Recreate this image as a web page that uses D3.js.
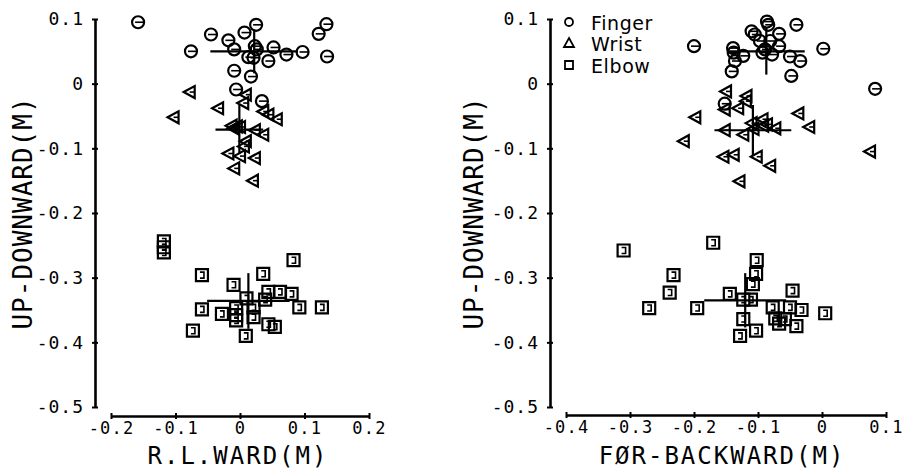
<!DOCTYPE html>
<html><head><meta charset="utf-8">
<script src="https://cdn.jsdelivr.net/npm/d3@7"></script>
<style>
html,body{margin:0;padding:0;background:#fff;}
svg{display:block;}
.tick text{font-family:"DejaVu Sans Mono",monospace;}
</style></head>
<body>
<script>
// ---------- data ----------
const yTicks = [0.1, 0, -0.1, -0.2, -0.3, -0.4, -0.5];
const xTicksLeft = [-0.2, -0.1, 0, 0.1, 0.2];
const xTicksRight = [-0.4, -0.3, -0.2, -0.1, 0, 0.1];
const groups = ["Finger", "Wrist", "Elbow"];
const xTitleLeft = "R.L.WARD(M)";
const xTitleRight = "FØR-BACKWARD(M)";
const yTitle = "UP-DOWNWARD(M)";

// Left panel: R.L.ward (x) vs up-downward (y)
const leftFinger = [[-0.158,0.095],[0.025,0.091],[0.134,0.092],[0.122,0.077],[-0.045,0.076],[0.007,0.079],
  [-0.018,0.067],[-0.076,0.050],[-0.009,0.053],[0.023,0.058],[0.026,0.053],[0.052,0.056],[0.072,0.045],
  [0.097,0.049],[0.135,0.042],[0.013,0.041],[0.021,0.040],[0.044,0.035],[-0.009,0.020],[0.017,0.011],
  [-0.006,-0.009],[0.034,-0.027]];
const leftWrist = [[-0.078,-0.013],[-0.103,-0.052],[-0.034,-0.038],[0.009,-0.017],[0.005,-0.030],
  [0.036,-0.043],[0.044,-0.048],[0.057,-0.055],[-0.013,-0.065],[-0.005,-0.066],[0.000,-0.067],
  [-0.010,-0.069],[0.023,-0.072],[0.036,-0.079],[0.009,-0.089],[0.006,-0.097],[-0.018,-0.108],
  [0.000,-0.112],[0.023,-0.115],[-0.009,-0.131],[0.020,-0.150]];
const leftElbow = [[-0.118,-0.244],[-0.118,-0.253],[-0.118,-0.261],[0.083,-0.273],[-0.059,-0.296],
  [0.036,-0.294],[-0.010,-0.311],[0.044,-0.322],[0.062,-0.322],[0.080,-0.325],[0.010,-0.332],
  [0.039,-0.334],[0.092,-0.346],[0.127,-0.346],[-0.059,-0.349],[-0.028,-0.356],[-0.006,-0.347],
  [-0.006,-0.358],[-0.006,-0.366],[0.021,-0.346],[0.021,-0.361],[0.044,-0.372],[0.054,-0.376],
  [-0.073,-0.382],[0.009,-0.390]];
// mean x, mean y, sd x, sd y  (Finger, Wrist, Elbow)
const leftMeanX = [0.022, -0.001, 0.013];
const leftMeanY = [0.050, -0.071, -0.336];
const leftSdX = [0.068, 0.037, 0.064];
const leftSdY = [0.034, 0.038, 0.043];

// Right panel: for-backward (x) vs up-downward (y)
const rightFinger = [[-0.200,0.058],[-0.086,0.096],[-0.084,0.091],[-0.040,0.091],[-0.110,0.081],
  [-0.105,0.076],[-0.067,0.077],[-0.097,0.066],[-0.081,0.066],[-0.067,0.058],[-0.089,0.053],
  [-0.139,0.055],[-0.138,0.048],[-0.123,0.043],[-0.136,0.035],[-0.093,0.048],[-0.078,0.045],
  [-0.050,0.042],[-0.034,0.035],[-0.141,0.019],[-0.048,0.012],[0.002,0.054],[0.083,-0.008],
  [-0.152,-0.031]];
const rightWrist = [[-0.150,-0.012],[-0.118,-0.019],[-0.119,-0.027],[-0.152,-0.040],[-0.131,-0.038],
  [-0.198,-0.052],[-0.037,-0.046],[-0.110,-0.061],[-0.093,-0.055],[-0.092,-0.065],[-0.086,-0.063],
  [-0.073,-0.069],[-0.020,-0.067],[-0.152,-0.072],[-0.123,-0.079],[-0.107,-0.070],[-0.216,-0.089],
  [-0.154,-0.113],[-0.138,-0.110],[-0.102,-0.113],[-0.081,-0.127],[-0.129,-0.151],[0.075,-0.105]];
const rightElbow = [[-0.310,-0.258],[-0.170,-0.246],[-0.102,-0.273],[-0.103,-0.294],[-0.232,-0.296],
  [-0.238,-0.323],[-0.108,-0.310],[-0.144,-0.325],[-0.046,-0.320],[-0.270,-0.347],[-0.195,-0.347],
  [-0.123,-0.334],[-0.111,-0.334],[-0.123,-0.364],[-0.128,-0.390],[-0.103,-0.382],[-0.077,-0.346],
  [-0.050,-0.346],[-0.032,-0.350],[0.005,-0.355],[-0.073,-0.363],[-0.067,-0.371],[-0.058,-0.364],
  [-0.040,-0.375]];
const rightMeanX = [-0.087, -0.108, -0.120];
const rightMeanY = [0.050, -0.072, -0.335];
const rightSdX = [0.060, 0.060, 0.064];
const rightSdY = [0.036, 0.039, 0.042];

// ---------- drawing ----------
const W = 905, H = 469;
const svg = d3.select("body").append("svg").attr("width", W).attr("height", H);

const markerPaths = {
  Finger: ["M-3,0H6"],
  Wrist: ["M-6,0L5,-6L5,6Z", "M0,0H5"],
  Elbow: ["M-6,-6H6V6H-6Z", "M-2,-3H2V3H-2"]
};

function tickFmt(d){ return d === 0 ? "0" : d.toFixed(1); }

function drawPanel(cfg){
  const x = d3.scaleLinear().domain(cfg.xDomain).range(cfg.xRange);
  const y = d3.scaleLinear().domain([-0.5, 0.1]).range([407, 19]);
  const g = svg.append("g");

  // y axis
  const ya = g.append("g").attr("transform", `translate(${cfg.yAxisX},0)`)
    .call(d3.axisLeft(y).tickValues(yTicks).tickFormat(tickFmt).tickSizeOuter(0).tickSizeInner(3).tickPadding(8));
  ya.select(".domain").attr("stroke-width", 2.6);
  ya.selectAll(".tick line").attr("x1", -3).attr("x2", 3).attr("stroke-width", 2);
  ya.selectAll(".tick text").attr("font-size", 18).attr("letter-spacing", 1).attr("fill", "#000");

  // x axis
  const xa = g.append("g").attr("transform", `translate(0,${cfg.xAxisY})`)
    .call(d3.axisBottom(x).tickValues(cfg.xTicks).tickFormat(tickFmt).tickSizeOuter(0).tickSizeInner(3).tickPadding(3));
  xa.select(".domain").attr("stroke-width", 2.6);
  xa.selectAll(".tick line").attr("y1", -3).attr("y2", 3).attr("stroke-width", 2);
  xa.selectAll(".tick text").attr("font-size", 17).attr("letter-spacing", 1.2).attr("fill", "#000");

  // titles
  g.append("text").attr("x", cfg.xTitleX).attr("y", 464).attr("text-anchor", "middle")
    .attr("font-family", "DejaVu Sans Mono").attr("font-size", 24).attr("letter-spacing", 2)
    .text(cfg.xTitle);
  g.append("text").attr("transform", `translate(${cfg.yTitleX},213) rotate(-90)`)
    .attr("text-anchor", "middle").attr("font-family", "DejaVu Sans Mono")
    .attr("font-size", 26).attr("letter-spacing", 1).text(yTitle);

  // points
  cfg.series.forEach((pts, i) => {
    const name = groups[i];
    const pg = g.append("g").attr("fill", "none").attr("stroke", "#000");
    const m = pg.selectAll("g.m").data(pts).enter().append("g").attr("class", "m")
      .attr("transform", d => `translate(${x(d[0])},${y(d[1])})`);
    if (name === "Finger") m.append("circle").attr("r", 6).attr("stroke-width", 2.2);
    markerPaths[name].forEach((p, k) => m.append("path").attr("d", p)
      .attr("stroke-width", k === 0 && name !== "Finger" ? 2.2 : 1.6));
  });

  // mean +/- sd crosshairs
  groups.forEach((name, i) => {
    const mx = cfg.meanX[i], my = cfg.meanY[i], sx = cfg.sdX[i], sy = cfg.sdY[i];
    g.append("line").attr("x1", x(mx - sx)).attr("x2", x(mx + sx)).attr("y1", y(my)).attr("y2", y(my))
      .attr("stroke", "#000").attr("stroke-width", 2.2);
    g.append("line").attr("x1", x(mx)).attr("x2", x(mx)).attr("y1", y(my + sy)).attr("y2", y(my - sy))
      .attr("stroke", "#000").attr("stroke-width", 2.2);
  });
  return {x, y, g};
}

drawPanel({xDomain: [-0.2, 0.2], xRange: [111, 369], yAxisX: 95, xAxisY: 416, xTicks: xTicksLeft,
  xTitle: xTitleLeft, xTitleX: 238, yTitleX: 32,
  series: [leftFinger, leftWrist, leftElbow],
  meanX: leftMeanX, meanY: leftMeanY, sdX: leftSdX, sdY: leftSdY});

drawPanel({xDomain: [-0.4, 0.1], xRange: [566, 886], yAxisX: 550, xAxisY: 415, xTicks: xTicksRight,
  xTitle: xTitleRight, xTitleX: 722, yTitleX: 483,
  series: [rightFinger, rightWrist, rightElbow],
  meanX: rightMeanX, meanY: rightMeanY, sdX: rightSdX, sdY: rightSdY});

// legend
const lg = svg.append("g").attr("fill", "none").attr("stroke", "#000").attr("stroke-width", 1.8);
const legendSym = ["M-4,0A4,4 0 1,0 4,0A4,4 0 1,0 -4,0Z", "M0,-5L5,4H-5Z", "M-4,-4H4V4H-4Z"];
const legendY = [22, 43, 65];
groups.forEach((name, i) => {
  lg.append("path").attr("d", legendSym[i]).attr("transform", `translate(569,${legendY[i]})`);
  svg.append("text").attr("x", 591).attr("y", legendY[i] + 8).attr("font-family", "DejaVu Sans")
    .attr("font-size", 19).attr("letter-spacing", 0.6).text(name);
});
</script>
</body></html>
